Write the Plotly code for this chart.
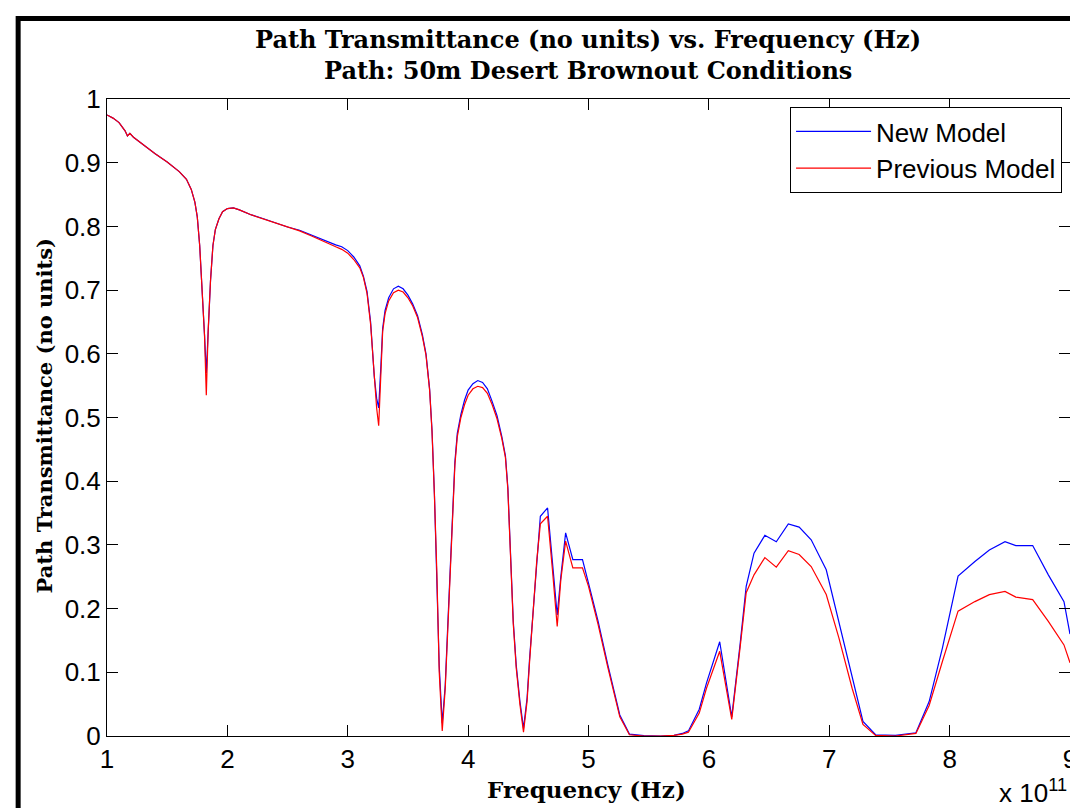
import plotly.graph_objects as go

# Frequency in units of 1e11 Hz
freq_1e11 = [1.00, 1.05, 1.10, 1.15, 1.17, 1.19, 1.22, 1.30, 1.40, 1.50, 1.60, 1.66, 1.70, 1.73, 1.75,
             1.77, 1.79, 1.81, 1.825, 1.84, 1.86, 1.88, 1.90, 1.93, 1.96, 2.00, 2.05, 2.10, 2.20, 2.30,
             2.40, 2.50, 2.60, 2.70, 2.80, 2.90, 2.95, 3.00, 3.05, 3.10, 3.13, 3.16, 3.19, 3.22, 3.24,
             3.257, 3.275, 3.29, 3.31, 3.34, 3.38, 3.42, 3.46, 3.50, 3.54, 3.58, 3.62, 3.65, 3.68, 3.70,
             3.72, 3.74, 3.76, 3.785, 3.81, 3.83, 3.85, 3.87, 3.89, 3.91, 3.94, 3.97, 4.00, 4.04, 4.08,
             4.12, 4.16, 4.20, 4.24, 4.28, 4.31, 4.33, 4.35, 4.375, 4.40, 4.43, 4.46, 4.49, 4.51, 4.54,
             4.57, 4.60, 4.66, 4.70, 4.74, 4.77, 4.81, 4.87, 4.95, 5.00, 5.08, 5.16, 5.26, 5.34, 5.46,
             5.60, 5.71, 5.78, 5.83, 5.92, 5.98, 6.09, 6.19, 6.26, 6.31, 6.375, 6.465, 6.56, 6.66, 6.75,
             6.85, 6.975, 7.08, 7.19, 7.28, 7.385, 7.55, 7.72, 7.83, 7.94, 8.07, 8.21, 8.33, 8.46, 8.55,
             8.69, 8.82, 8.95, 9.00]

new_model = [0.975, 0.970, 0.963, 0.950, 0.942, 0.946, 0.940, 0.928, 0.914, 0.901, 0.886, 0.874, 0.858, 0.838, 0.815,
             0.770, 0.705, 0.630, 0.570, 0.635, 0.715, 0.770, 0.795, 0.812, 0.823, 0.828, 0.829, 0.826, 0.818, 0.812,
             0.805, 0.799, 0.794, 0.786, 0.778, 0.771, 0.768, 0.762, 0.752, 0.738, 0.722, 0.698, 0.650, 0.565, 0.530,
             0.515, 0.580, 0.640, 0.668, 0.688, 0.702, 0.706, 0.702, 0.692, 0.678, 0.660, 0.630, 0.600, 0.545, 0.480,
             0.380, 0.260, 0.110, 0.020, 0.080, 0.170, 0.260, 0.350, 0.430, 0.475, 0.505, 0.527, 0.543, 0.553, 0.558,
             0.555, 0.545, 0.525, 0.503, 0.470, 0.440, 0.390, 0.300, 0.180, 0.110, 0.055, 0.012, 0.060, 0.120, 0.200,
             0.280, 0.345, 0.358, 0.270, 0.190, 0.250, 0.319, 0.277, 0.277, 0.240, 0.180, 0.112, 0.033, 0.003, 0.0005,
             0.000, 0.001, 0.004, 0.008, 0.042, 0.083, 0.148, 0.030, 0.145, 0.235, 0.287, 0.315, 0.305, 0.333, 0.328,
             0.308, 0.261, 0.180, 0.091, 0.023, 0.002, 0.001, 0.005, 0.054, 0.138, 0.251, 0.274, 0.292, 0.305, 0.299,
             0.299, 0.253, 0.211, 0.160]

previous_model = [0.975, 0.970, 0.963, 0.950, 0.942, 0.946, 0.940, 0.928, 0.914, 0.901, 0.886, 0.874, 0.858, 0.838, 0.815,
                  0.770, 0.705, 0.630, 0.535, 0.635, 0.715, 0.770, 0.795, 0.812, 0.823, 0.828, 0.829, 0.826, 0.818, 0.812,
                  0.805, 0.799, 0.793, 0.785, 0.776, 0.768, 0.764, 0.758, 0.748, 0.735, 0.720, 0.695, 0.646, 0.560, 0.515,
                  0.487, 0.575, 0.635, 0.663, 0.683, 0.696, 0.700, 0.697, 0.688, 0.675, 0.657, 0.627, 0.598, 0.543, 0.478,
                  0.378, 0.258, 0.100, 0.008, 0.075, 0.165, 0.255, 0.345, 0.425, 0.470, 0.500, 0.520, 0.535, 0.545, 0.549,
                  0.547, 0.538, 0.520, 0.498, 0.467, 0.437, 0.387, 0.298, 0.176, 0.106, 0.050, 0.006, 0.055, 0.115, 0.195,
                  0.275, 0.333, 0.345, 0.262, 0.172, 0.245, 0.306, 0.264, 0.264, 0.235, 0.175, 0.108, 0.030, 0.002, 0.000,
                  0.000, 0.001, 0.003, 0.006, 0.036, 0.075, 0.133, 0.026, 0.140, 0.225, 0.253, 0.280, 0.265, 0.291, 0.285,
                  0.266, 0.222, 0.154, 0.075, 0.018, 0.001, 0.000, 0.004, 0.048, 0.117, 0.196, 0.211, 0.222, 0.227, 0.218,
                  0.214, 0.180, 0.143, 0.115]

x_tick_vals = [1, 2, 3, 4, 5, 6, 7, 8, 9]
x_tick_text = ["1", "2", "3", "4", "5", "6", "7", "8", "9"]
y_tick_vals = [0, 0.1, 0.2, 0.3, 0.4, 0.5, 0.6, 0.7, 0.8, 0.9, 1]
y_tick_text = ["0", "0.1", "0.2", "0.3", "0.4", "0.5", "0.6", "0.7", "0.8", "0.9", "1"]

title_line1 = "Path Transmittance (no units) vs. Frequency (Hz)"
title_line2 = "Path: 50m Desert Brownout Conditions"
x_label = "Frequency (Hz)"
y_label = "Path Transmittance (no units)"
x_exponent = "x 10<sup>11</sup>"

SERIF = "DejaVu Serif, Liberation Serif, serif"
SANS = "Liberation Sans, Arial, sans-serif"

# plot-area pixel geometry (used only for placing decorations)
W, H = 1078, 808
L, R, T, B = 99, 9, 91, 80
PW, PH = W - L - R, H - T - B


def px_x(p):
    return (p - L) / PW


def px_y(p):
    return (H - B - p) / PH


fig = go.Figure()
fig.add_trace(go.Scatter(x=freq_1e11, y=new_model, mode="lines", name="New Model",
                         line=dict(color="#0000ff", width=1.2)))
fig.add_trace(go.Scatter(x=freq_1e11, y=previous_model, mode="lines", name="Previous Model",
                         line=dict(color="#ff0000", width=1.2)))

axis_common = dict(showline=True, linecolor="black", linewidth=1, mirror="ticks",
                   ticks="inside", ticklen=11, tickwidth=1, tickcolor="black",
                   showgrid=False, zeroline=False,
                   tickfont=dict(family=SANS, size=26, color="black"))

fig.update_xaxes(range=[1, 9], tickvals=x_tick_vals, ticktext=x_tick_text, **axis_common)
fig.update_yaxes(range=[0, 1], tickvals=y_tick_vals, ticktext=y_tick_text, **axis_common)

fig.update_layout(
    width=W, height=H,
    margin=dict(l=L, r=R, t=T, b=B),
    paper_bgcolor="white", plot_bgcolor="white",
    showlegend=True,
    legend=dict(x=px_x(1061), y=px_y(99), xanchor="right", yanchor="top",
                bgcolor="white", bordercolor="black", borderwidth=1,
                font=dict(family=SANS, size=26, color="black"),
                itemwidth=75, tracegroupgap=0),
    annotations=[
        dict(text="<b>" + title_line1 + "</b>", xref="paper", yref="paper", x=px_x(583.5), y=px_y(31.5),
             xanchor="center", yanchor="middle", showarrow=False,
             font=dict(family=SERIF, size=24, color="black")),
        dict(text="<b>" + title_line2 + "</b>", xref="paper", yref="paper", x=px_x(583.5), y=px_y(63),
             xanchor="center", yanchor="middle", showarrow=False,
             font=dict(family=SERIF, size=24, color="black")),
        dict(text="<b>" + x_label + "</b>", xref="paper", yref="paper", x=px_x(582), y=px_y(781),
             xanchor="center", yanchor="middle", showarrow=False,
             font=dict(family=SERIF, size=23, color="black")),
        dict(text="<b>" + y_label + "</b>", xref="paper", yref="paper", x=px_x(36), y=px_y(408),
             xanchor="center", yanchor="middle", showarrow=False, textangle=-90,
             font=dict(family=SERIF, size=21, color="black")),
        dict(text=x_exponent, xref="paper", yref="paper", x=px_x(1068), y=px_y(802),
             xanchor="right", yanchor="bottom", showarrow=False,
             font=dict(family=SANS, size=26, color="black")),
    ],
    shapes=[
        dict(type="rect", xref="paper", yref="paper",
             x0=px_x(9.5), x1=px_x(1077.5),
             y0=px_y(807.5), y1=px_y(10.5),
             line=dict(color="black", width=5), fillcolor="rgba(0,0,0,0)", layer="above"),
    ],
)

fig.write_html("out.html")
